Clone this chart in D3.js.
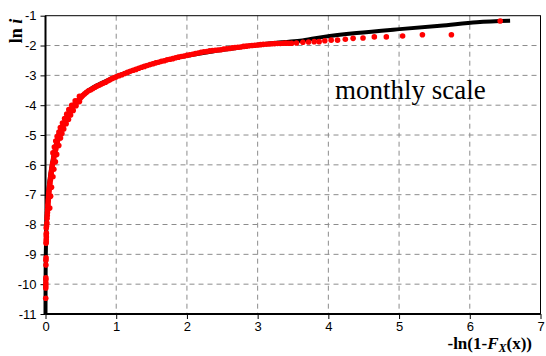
<!DOCTYPE html>
<html><head><meta charset="utf-8">
<script src="https://cdn.jsdelivr.net/npm/d3@7"></script>
<style>
body{margin:0;background:#fff;}
svg{display:block;}
</style></head>
<body><svg id="c" width="546" height="356"></svg>
<script>
// x ticks and y ticks
const xTicks = [0,1,2,3,4,5,6,7];
const yTicks = [-11,-10,-9,-8,-7,-6,-5,-4,-3,-2,-1];

// theoretical (model) curve: [-ln(1-F), ln i]
const modelX = [0,0.001,0.004,0.01,0.018,0.035,0.058,0.09,0.13,0.18,0.27,0.355,0.47,0.58,0.715,0.86,1.0,1.25,1.5,1.8,2.1,2.4,2.7,3.0,3.3,3.6,3.93,4.4,5.01,5.58,6.1,6.57];
const modelY = [-11,-10,-9,-8.3,-7.7,-7.0,-6.5,-6.0,-5.5,-5.0,-4.55,-4.15,-3.8,-3.55,-3.35,-3.18,-3.04,-2.82,-2.62,-2.44,-2.3,-2.18,-2.08,-1.97,-1.9,-1.84,-1.71,-1.58,-1.45,-1.34,-1.22,-1.17];

const obsX = [
 0.003,0.004,0.004,0.005,0.005,0.005,0.006,0.006,0.008,0.008,0.010,0.010,0.012,0.010,0.012,0.010,0.015,0.020,
 0.022,0.025,0.028,0.030,0.033,0.035,0.038,0.040,0.042,0.045,0.048,0.052,0.056,0.060,0.064,0.068,0.072,0.078,0.080,0.085,0.090,0.095,0.100,0.110,0.115,0.120,0.130,0.135,0.145,0.150,0.160,0.165,0.175,0.180,
 0.060,0.072,0.085,0.105,0.118,0.140,0.158,0.188,0.212,0.232,0.258,0.292,0.325,0.355,0.392,0.432,0.480,
 0.480,0.420,0.370,0.330,0.300,0.270,0.240,0.210,0.190,0.165,0.145,0.125,0.105,
 0.190,0.205,0.220,0.235,0.250,0.265,0.280,0.295,0.310,0.325,0.340,0.355,0.370,0.390,0.410,0.430,0.450,0.470,0.490,0.510,0.530,0.555,0.580,0.610,0.640,0.670,0.700,0.730,0.760,0.790,0.820,0.850,0.880,0.910,0.940,0.970,
 1.00,1.04,1.08,1.12,1.16,1.20,1.24,1.28,1.32,1.36,1.40,1.44,1.48,1.52,1.56,1.60,1.64,1.68,1.72,1.76,1.80,1.84,1.88,1.92,1.96,2.00,2.04,2.08,2.12,2.16,2.20,2.24,2.28,2.32,2.36,2.40,2.44,2.48,2.52,2.56,2.60,2.64,2.68,2.72,2.76,2.80,2.84,2.88,2.92,2.96,3.00,3.04,3.08,3.12,3.16,3.20,3.24,3.28,3.32,3.36,3.40,3.44,
 3.48,3.55,3.64,3.72,3.80,3.87,3.95,4.04,4.13,4.24,4.35,4.49,4.65,4.82,5.05,5.33,5.74,6.43
];
const obsY = [
 -10.47,-10.13,-10.05,-9.96,-9.85,-9.79,-9.36,-9.20,-9.12,-8.63,-8.58,-8.50,-8.42,-8.35,-8.29,-8.12,-8.05,-7.95,
 -7.80,-7.70,-7.60,-7.50,-7.40,-7.32,-7.24,-7.16,-7.08,-7.00,-6.92,-6.84,-6.76,-6.68,-6.60,-6.52,-6.44,-6.36,-6.28,-6.20,-6.12,-6.04,-5.96,-5.88,-5.80,-5.72,-5.64,-5.56,-5.48,-5.40,-5.32,-5.24,-5.16,-5.08,
 -7.45,-7.05,-6.75,-6.40,-6.15,-5.90,-5.65,-5.35,-5.10,-4.95,-4.80,-4.62,-4.48,-4.33,-4.18,-4.02,-3.88,
 -3.70,-3.85,-4.00,-4.15,-4.30,-4.45,-4.60,-4.75,-4.90,-5.05,-5.20,-5.40,-5.60,
 -5.00,-4.91,-4.83,-4.75,-4.68,-4.61,-4.54,-4.47,-4.40,-4.33,-4.26,-4.19,-4.12,-4.05,-3.98,-3.93,-3.88,-3.83,-3.77,-3.72,-3.67,-3.62,-3.57,-3.52,-3.48,-3.44,-3.40,-3.36,-3.33,-3.29,-3.26,-3.23,-3.19,-3.15,-3.11,-3.08,
 -3.05,-3.01,-2.98,-2.94,-2.90,-2.86,-2.83,-2.80,-2.76,-2.73,-2.70,-2.67,-2.64,-2.61,-2.58,-2.56,-2.53,-2.51,-2.48,-2.46,-2.44,-2.41,-2.39,-2.37,-2.35,-2.33,-2.31,-2.29,-2.27,-2.25,-2.23,-2.21,-2.20,-2.18,-2.17,-2.16,-2.15,-2.14,-2.12,-2.11,-2.10,-2.08,-2.07,-2.06,-2.05,-2.03,-2.02,-2.01,-2.00,-1.99,-1.98,-1.97,-1.96,-1.955,-1.95,-1.94,-1.935,-1.93,-1.93,-1.925,-1.92,-1.925,
 -1.925,-1.915,-1.89,-1.88,-1.87,-1.87,-1.84,-1.82,-1.82,-1.79,-1.76,-1.75,-1.71,-1.71,-1.68,-1.64,-1.64,-1.18
];

const svg = d3.select("#c");
const x = d3.scaleLinear().domain([0,7]).range([45.5,540.5]);
const y = d3.scaleLinear().domain([-11,-1]).range([314,15.7]);

// grid
const grid = svg.append("g").attr("stroke","#8c8c8c").attr("stroke-width",1).attr("stroke-dasharray","5,4");
grid.selectAll("line.gx").data(xTicks.slice(1,-1)).join("line")
  .attr("x1",d=>x(d)).attr("x2",d=>x(d)).attr("y1",y(-1)).attr("y2",y(-11));
grid.selectAll("line.gy").data(yTicks.slice(1,-1)).join("line")
  .attr("x1",x(0)).attr("x2",x(7)).attr("y1",d=>y(d)).attr("y2",d=>y(d));

// frame (top/right)
svg.append("rect").attr("x",x(0)).attr("y",y(-1)).attr("width",x(7)-x(0)).attr("height",y(-11)-y(-1))
  .attr("fill","none").attr("stroke","#000").attr("stroke-width",1);

// axes
const xa = svg.append("g").attr("transform",`translate(0,${y(-11)})`)
  .call(d3.axisBottom(x).tickValues(xTicks).tickSize(5).tickPadding(3).tickFormat(d3.format("d")));
const ya = svg.append("g").attr("transform",`translate(${x(0)},0)`)
  .call(d3.axisLeft(y).tickValues(yTicks).tickSize(5).tickPadding(4).tickFormat(d=>String(d).replace("\u2212","-")));
[xa,ya].forEach(a=>{
  a.select(".domain").attr("stroke","#000").attr("stroke-width",2);
  a.selectAll(".tick line").attr("stroke","#000").attr("stroke-width",1);
  a.selectAll("text").attr("font-family","'Liberation Sans', Arial, sans-serif").attr("font-size",13).attr("fill","#000");
});
ya.select(".domain").attr("d",`M0,${y(-1)}V${y(-11)}`);
xa.select(".domain").attr("d",`M${x(0)},0H${x(7)}`);

// model line
const modelPts = modelX.map((v,i)=>[v,modelY[i]]);
svg.append("path").datum(modelPts).attr("d",d3.line().x(d=>x(d[0])).y(d=>y(d[1])).curve(d3.curveCatmullRom))
  .attr("fill","none").attr("stroke","#000").attr("stroke-width",4).attr("stroke-linejoin","round");

// observed points
const obs = obsX.map((v,i)=>[v,obsY[i]]);
svg.append("g").selectAll("circle").data(obs).join("circle")
  .attr("cx",d=>x(d[0])).attr("cy",d=>y(d[1])).attr("r",2.8).attr("fill","#ff0000");

// annotation
svg.append("text").attr("x",335).attr("y",99).attr("font-family","'Liberation Serif','Times New Roman',serif")
  .attr("font-size",27).attr("fill","#000").text("monthly scale");

// y title
const yt = svg.append("text").attr("transform","translate(22,31) rotate(-90)").attr("text-anchor","middle")
  .attr("font-family","'Liberation Serif','Times New Roman',serif").attr("font-weight","bold").attr("font-size",18).attr("fill","#000");
yt.append("tspan").text("ln ");
yt.append("tspan").attr("font-style","italic").text("i");

// x title
const xt = svg.append("text").attr("x",532).attr("y",349).attr("text-anchor","end")
  .attr("font-family","'Liberation Serif','Times New Roman',serif").attr("font-weight","bold").attr("font-size",17).attr("fill","#000");
xt.append("tspan").text("-ln(1-");
xt.append("tspan").attr("font-style","italic").text("F");
xt.append("tspan").attr("font-style","italic").attr("font-size",12).attr("dy",3).text("X");
xt.append("tspan").attr("dy",-3).text("(x))");
</script>
</body></html>
